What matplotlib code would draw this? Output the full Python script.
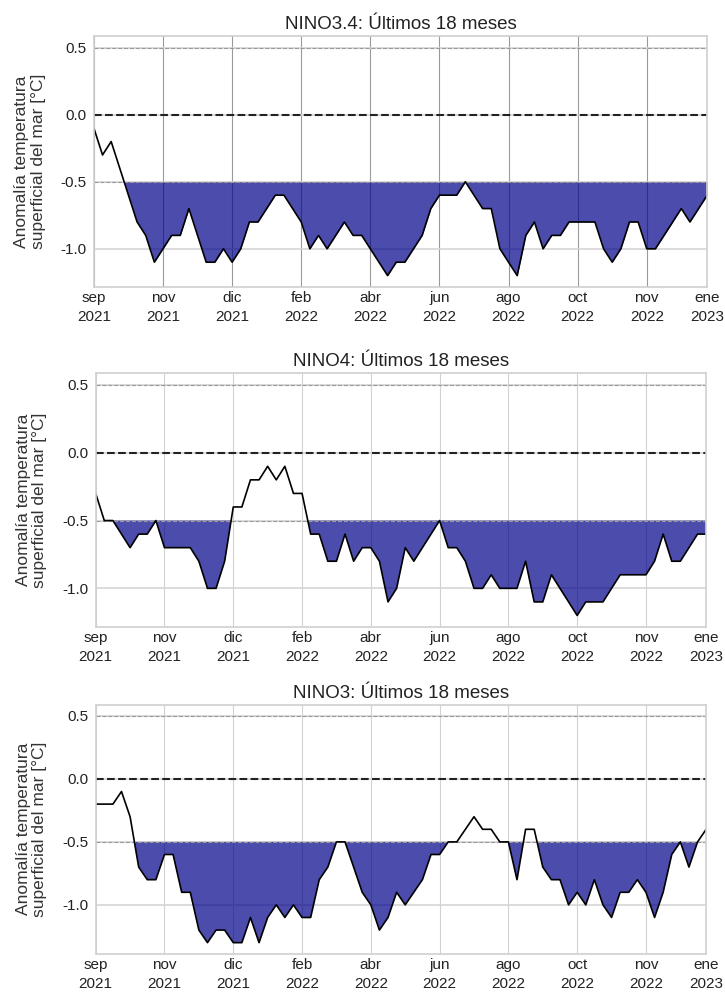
import matplotlib
matplotlib.use("Agg")
import matplotlib.pyplot as plt
import numpy as np

plt.rcParams['font.family'] = ['Liberation Sans', 'DejaVu Sans']

# weekly anomalies, last 18 months
tick_pos = [0, 8, 16, 24, 32, 40, 48, 56, 64, 71]
tick_labels = ["sep\n2021", "nov\n2021", "dic\n2021", "feb\n2022", "abr\n2022",
               "jun\n2022", "ago\n2022", "oct\n2022", "nov\n2022", "ene\n2023"]

nino34 = [-0.1, -0.3, -0.2, -0.4, -0.6, -0.8, -0.9, -1.1, -1.0, -0.9,
          -0.9, -0.7, -0.9, -1.1, -1.1, -1.0, -1.1, -1.0, -0.8, -0.8,
          -0.7, -0.6, -0.6, -0.7, -0.8, -1.0, -0.9, -1.0, -0.9, -0.8,
          -0.9, -0.9, -1.0, -1.1, -1.2, -1.1, -1.1, -1.0, -0.9, -0.7,
          -0.6, -0.6, -0.6, -0.5, -0.6, -0.7, -0.7, -1.0, -1.1, -1.2,
          -0.9, -0.8, -1.0, -0.9, -0.9, -0.8, -0.8, -0.8, -0.8, -1.0,
          -1.1, -1.0, -0.8, -0.8, -1.0, -1.0, -0.9, -0.8, -0.7, -0.8,
          -0.7, -0.6]

nino4 = [-0.3, -0.5, -0.5, -0.6, -0.7, -0.6, -0.6, -0.5, -0.7, -0.7,
         -0.7, -0.7, -0.8, -1.0, -1.0, -0.8, -0.4, -0.4, -0.2, -0.2,
         -0.1, -0.2, -0.1, -0.3, -0.3, -0.6, -0.6, -0.8, -0.8, -0.6,
         -0.8, -0.7, -0.7, -0.8, -1.1, -1.0, -0.7, -0.8, -0.7, -0.6,
         -0.5, -0.7, -0.7, -0.8, -1.0, -1.0, -0.9, -1.0, -1.0, -1.0,
         -0.8, -1.1, -1.1, -0.9, -1.0, -1.1, -1.2, -1.1, -1.1, -1.1,
         -1.0, -0.9, -0.9, -0.9, -0.9, -0.8, -0.6, -0.8, -0.8, -0.7,
         -0.6, -0.6]

nino3 = [-0.2, -0.2, -0.2, -0.1, -0.3, -0.7, -0.8, -0.8, -0.6, -0.6,
         -0.9, -0.9, -1.2, -1.3, -1.2, -1.2, -1.3, -1.3, -1.1, -1.3,
         -1.1, -1.0, -1.1, -1.0, -1.1, -1.1, -0.8, -0.7, -0.5, -0.5,
         -0.7, -0.9, -1.0, -1.2, -1.1, -0.9, -1.0, -0.9, -0.8, -0.6,
         -0.6, -0.5, -0.5, -0.4, -0.3, -0.4, -0.4, -0.5, -0.5, -0.8,
         -0.4, -0.4, -0.7, -0.8, -0.8, -1.0, -0.9, -1.0, -0.8, -1.0,
         -1.1, -0.9, -0.9, -0.8, -0.9, -1.1, -0.9, -0.6, -0.5, -0.7,
         -0.5, -0.4]

regions = ["NINO3.4", "NINO4", "NINO3"]
series = [nino34, nino4, nino3]

# axes rectangles in figure fraction
rects = [[0.1295, 0.713, 0.846, 0.2507],
         [0.132, 0.373, 0.842, 0.2536],
         [0.132, 0.046, 0.842, 0.2494]]
vgrid_colors = ["#9a9a9a", "#d2d2d2", "#d2d2d2"]

fig = plt.figure(figsize=(7.25, 10), dpi=100)

for name, values, rect, vcol in zip(regions, series, rects, vgrid_colors):
    ax = fig.add_axes(rect)
    y = np.array(values)
    x = np.arange(len(y))

    ax.set_axisbelow(True)
    ax.grid(axis="x", color=vcol, lw=0.8)
    ax.grid(axis="y", color="#d5d5d5", lw=1.2)

    ax.plot(x, np.full(len(x), 0.5), ls="--", color="#999999", lw=0.8)
    ax.plot(x, np.full(len(x), -0.5), ls="--", color="#999999", lw=0.8)
    ax.plot(x, np.zeros(len(x)), ls="--", color="#222222", lw=1.5)

    ax.fill_between(x, y, -0.5, where=y <= -0.5, interpolate=True,
                    color="#00008b", alpha=0.7, lw=0)
    ax.plot(x, y, color="black", lw=1.2)

    ax.set_xlim(0, len(x) - 1)
    ax.set_yticks([0.5, 0.0, -0.5, -1.0])
    ax.set_yticklabels(["0.5", "0.0", "-0.5", "-1.0"])
    ax.set_xticks(tick_pos)
    ax.set_xticklabels(tick_labels, linespacing=1.45)
    ax.tick_params(axis="both", length=0, labelsize=11, labelcolor="#222222")
    ax.tick_params(axis="x", pad=3)
    ax.tick_params(axis="y", pad=5)
    for s in ax.spines.values():
        s.set_color("#d0d0d0")
        s.set_linewidth(1.2)

    ax.set_title(name + ": Últimos 18 meses", fontsize=13.5, color="#222222", pad=5)
    ax.set_ylabel("Anomalía temperatura\nsuperficial del mar [°C]",
                  fontsize=12.5, color="#333333", labelpad=11, linespacing=1.15)

fig.savefig("out.png", dpi=100)
